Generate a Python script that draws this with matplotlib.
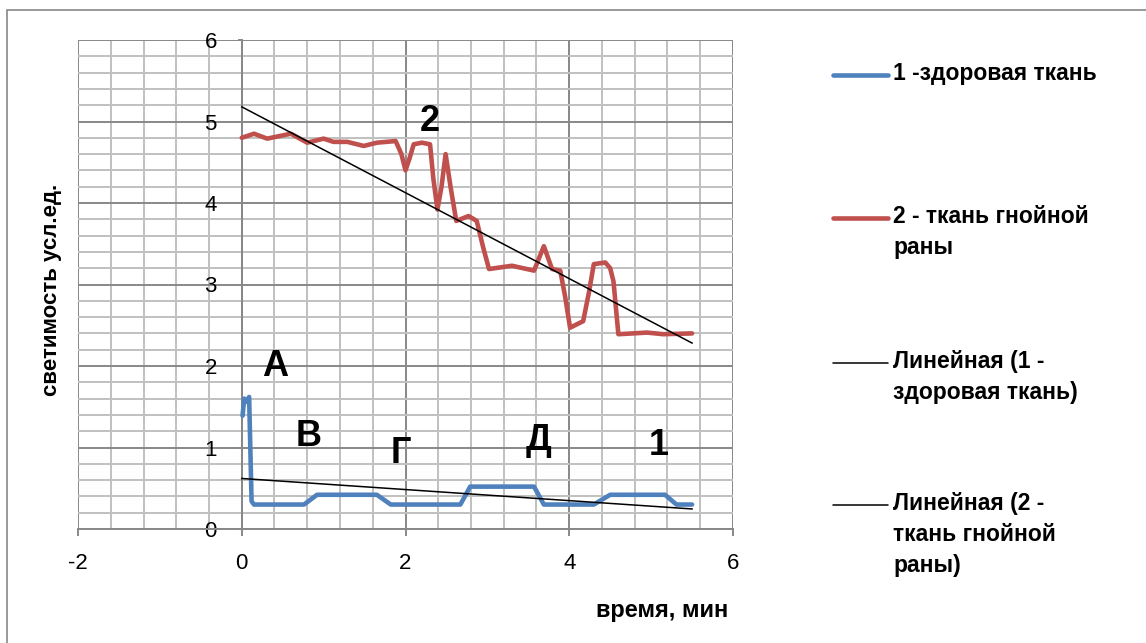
import numpy as np
import matplotlib.pyplot as plt
from matplotlib.lines import Line2D
from matplotlib.patches import Rectangle

plt.rcParams['font.family'] = ['Liberation Sans', 'DejaVu Sans']
plt.rcParams['axes.unicode_minus'] = False

# 1 - здоровая ткань
x1 = [0.01, 0.03, 0.06, 0.09, 0.12, 0.15, 0.76, 0.92, 1.65, 1.82, 2.67, 2.79,
      3.57, 3.69, 4.30, 4.50, 5.17, 5.31, 5.50]
y1 = [1.39, 1.60, 1.56, 1.62, 0.34, 0.30, 0.30, 0.42, 0.42, 0.30, 0.30, 0.52,
      0.52, 0.30, 0.30, 0.42, 0.42, 0.30, 0.30]

# 2 - ткань гнойной раны
x2 = [0.0, 0.15, 0.31, 0.6, 0.8, 1.0, 1.12, 1.29, 1.49, 1.65, 1.88, 1.95, 2.0,
      2.05, 2.10, 2.2, 2.30, 2.34, 2.39, 2.44, 2.49, 2.55, 2.62, 2.77, 2.87,
      2.95, 3.02, 3.30, 3.57, 3.69, 3.79, 3.89, 3.95, 4.01, 4.17, 4.24, 4.30,
      4.44, 4.50, 4.54, 4.60, 4.95, 5.15, 5.50]
y2 = [4.80, 4.85, 4.79, 4.85, 4.74, 4.79, 4.75, 4.75, 4.70, 4.74, 4.76, 4.60,
      4.40, 4.55, 4.72, 4.74, 4.72, 4.30, 3.92, 4.20, 4.60, 4.20, 3.78, 3.84,
      3.78, 3.45, 3.19, 3.23, 3.17, 3.47, 3.19, 3.17, 2.85, 2.47, 2.55, 2.90,
      3.25, 3.27, 3.20, 3.04, 2.39, 2.41, 2.39, 2.40]

# линейные тренды: (пересечение, наклон)
trend1 = (0.62, -0.068)
trend2 = (5.18, -0.527)
trend_x = [0.0, 5.5]

labels = ['1 -здоровая ткань', '2 - ткань гнойной\nраны',
          'Линейная (1 -\nздоровая ткань)', 'Линейная (2 -\nткань гнойной\nраны)']
marks = [('2', 2.3, 5.0), ('А', 0.41, 2.0), ('В', 0.82, 1.14),
         ('Г', 1.94, 0.93), ('Д', 3.62, 1.08), ('1', 5.09, 1.03)]

blue = '#4F81BD'
red = '#C0504D'

W, H = 1146, 643
fig = plt.figure(figsize=(W / 100, H / 100), dpi=100)
ax = fig.add_axes([78 / W, 1 - 529 / H, (733 - 78) / W, (529 - 40) / H])

ax.set_xlim(-2, 6)
ax.set_ylim(0, 6)
ax.set_xticks(np.arange(-2, 6.1, 2))
ax.set_xticks(np.arange(-2, 6.01, 0.4), minor=True)
ax.set_yticks(np.arange(0, 6.1, 1))
ax.set_yticks(np.arange(0, 6.01, 0.2), minor=True)
ax.grid(which='minor', color='#C0C0C0', lw=1.4, zorder=0)
ax.grid(which='major', color='#888888', lw=1.4, zorder=0)
ax.set_axisbelow(True)

for s in ['top', 'right']:
    ax.spines[s].set_visible(False)
ax.spines['left'].set_position(('data', 0))
ax.spines['left'].set_color('#888888')
ax.spines['bottom'].set_color('#888888')
ax.spines['left'].set_linewidth(1.4)
ax.spines['bottom'].set_linewidth(1.4)
ax.tick_params(which='minor', length=0)
ax.tick_params(axis='x', which='major', length=5, width=1.4, color='#888888',
               labelsize=16, pad=12)
ax.tick_params(axis='y', which='major', length=3, width=1.4, color='#888888',
               labelsize=16, pad=15)

ax.plot(x1, y1, color=blue, lw=3.3, solid_joinstyle='round', solid_capstyle='round', zorder=3)
ax.plot(x2, y2, color=red, lw=3.3, solid_joinstyle='round', solid_capstyle='round', zorder=3)
tx = np.array(trend_x)
ax.plot(tx, trend1[0] + trend1[1] * tx, color='black', lw=1.1, zorder=4)
ax.plot(tx, trend2[0] + trend2[1] * tx, color='black', lw=1.1, zorder=4)

for t, mx, my in marks:
    ax.text(mx, my, t, fontsize=26, fontweight='bold', ha='center', va='center', zorder=5)

fig.text(662 / W, 1 - 610 / H, 'время, мин', fontsize=17, fontweight='bold',
         ha='center', va='center')
fig.text(52 / W, 1 - 290 / H, 'светимость усл.ед.', fontsize=16, fontweight='bold',
         ha='center', va='center', rotation=90)

# легенда
leg_y = [75, 218, 363, 505]
leg_c = [blue, red, 'black', 'black']
leg_w = [3.3, 3.3, 1.1, 1.1]
for lab, ly, c, lw in zip(labels, leg_y, leg_c, leg_w):
    fig.add_artist(Line2D([833 / W, 888 / W], [1 - ly / H, 1 - ly / H], color=c, lw=lw,
                          solid_capstyle='round'))
    fig.text(893 / W, 1 - (ly - 13) / H, lab, fontsize=16.5, fontweight='bold',
             ha='left', va='top', linespacing=1.45)

fig.add_artist(Rectangle((7 / W, -0.1), 1.2, 1 - 10 / H + 0.1, transform=fig.transFigure,
                         fill=False, edgecolor='#888888', lw=1.2))

fig.savefig('out.png', dpi=100)
